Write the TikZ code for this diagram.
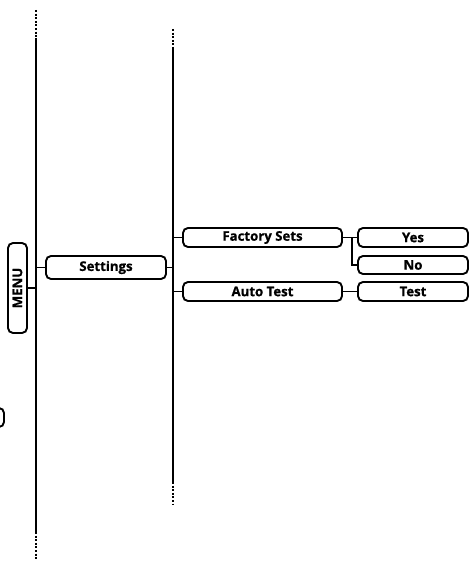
\documentclass[tikz,border=0pt]{standalone}
\usepackage{fontspec}
\setmainfont{Open Sans}[BoldFeatures={FakeBold=0.7}]
\begin{document}
\begin{tikzpicture}[x=1pt,y=-1pt,
  lbl/.style={font=\bfseries\fontsize{13.2}{13.2}\selectfont},
  box/.style={draw,line width=1.9pt,rounded corners=5pt,inner sep=0pt,lbl,minimum height=19pt},
  conn/.style={line width=1.9pt},
  rail/.style={line width=2.4pt},
  dots/.style={line width=2.4pt,dash pattern=on 2pt off 1.6pt}]
\useasboundingbox (0,0) rectangle (470,561);
\clip (0,0) rectangle (470,561);
% rails
\draw[dots] (36,10) -- (36,38);
\draw[rail] (36,38) -- (36,532);
\draw[dots] (36,532) -- (36,560);
\draw[dots] (173,29) -- (173,48);
\draw[rail] (173,48) -- (173,482);
\draw[dots] (173,482) -- (173,505);
\coordinate (r1) at (36,0);
\coordinate (r2) at (173,0);
% nodes
\node[box,minimum width=19pt,minimum height=90pt] (menu) at (17.5,288) {};
\node[rotate=90,lbl] (menut) at (menu.center) {MENU};
\node[box,minimum width=120pt,minimum height=23pt] (set) at (106,267.5) {Settings};
\node[box,minimum width=159pt] (fs) at (262.5,237.5) {Factory Sets};
\node[box,minimum width=159pt] (at) at (262.5,291.5) {Auto Test};
\node[box,minimum width=110pt] (yes) at (413,237.5) {Yes};
\node[box,minimum width=110pt,minimum height=18pt] (no) at (413,265) {No};
\node[box,minimum width=110pt] (test) at (413,291.5) {Test};
% partial box at left edge
\draw[line width=1.9pt,rounded corners=5pt] (-40,408) rectangle (4,427);
% connectors
\draw[conn] (menu.east) -- (menu.east -| r1);
\draw[conn] (set.west) -- (set.west -| r1);
\draw[conn] (set.east) -- (set.east -| r2);
\draw[conn] (fs.west) -- (fs.west -| r2);
\draw[conn] (at.west) -- (at.west -| r2);
\draw[conn] (fs.east) -- (yes.west);
\coordinate (br) at (352,237.5);
\draw[conn] (br) |- (no.west);
\draw[conn] (at.east) -- (test.west);
\end{tikzpicture}
\end{document}
